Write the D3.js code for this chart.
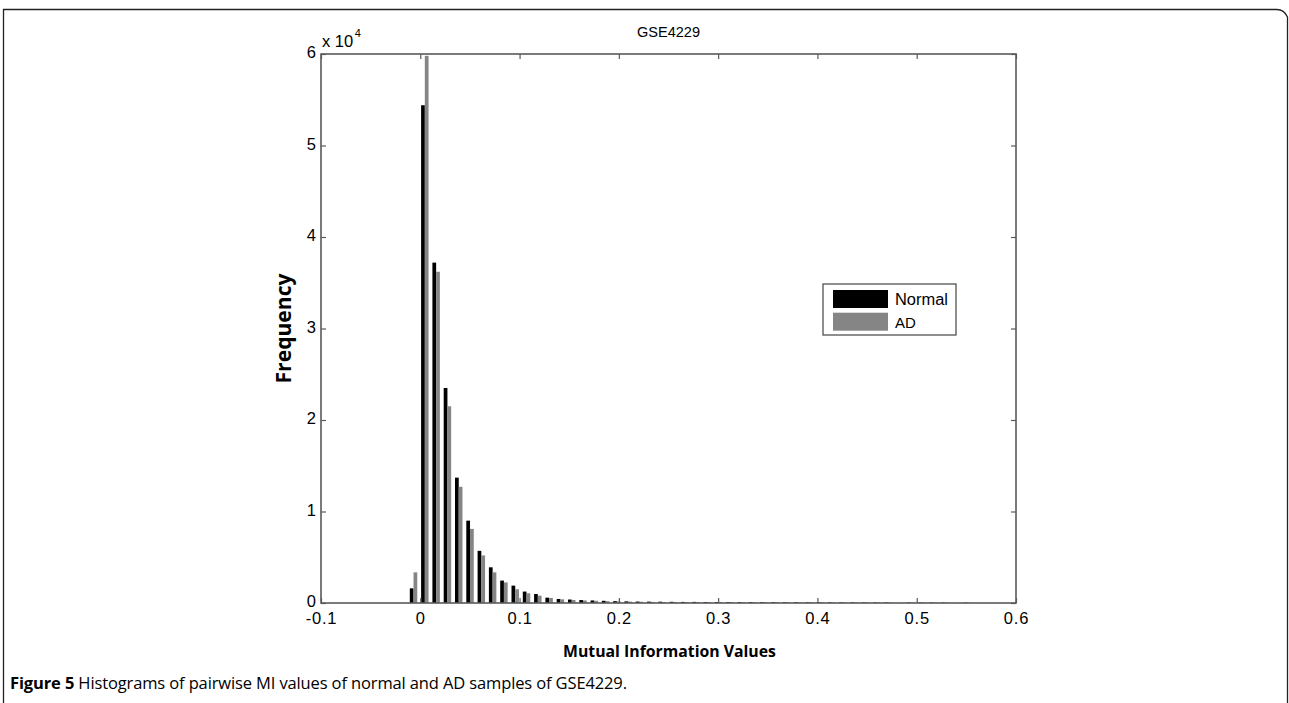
<!DOCTYPE html>
<html>
<head>
<meta charset="utf-8">
<script src="https://cdn.jsdelivr.net/npm/d3@7/dist/d3.min.js"></script>
<style>
  html, body { margin: 0; padding: 0; background: #fff; }
  svg { display: block; }
</style>
</head>
<body>
<svg id="chart" width="1289" height="703"></svg>
<script>
// ---------------- data ----------------
const chartTitle = "GSE4229";
const seriesNames = ["Normal", "AD"];
const binStart = -0.0068;      // centre of first histogram bin
const binWidth = 0.01138;      // histogram bin width
const normalCounts = [
  1600, 54400, 37200, 23500, 13700, 9000, 5700, 3900, 2450, 1900,
  1250, 980, 580, 440, 380, 320, 280, 240, 200, 180,
  160, 150, 140, 130, 120, 120, 110, 110, 100, 100,
  100, 95, 90, 90, 85, 80, 80, 75, 70, 70,
  65, 60, 60, 0, 55, 50, 50, 45, 0, 40
];
const adCounts = [
  3350, 59800, 36200, 21500, 12700, 8100, 5200, 3350, 2250, 1500,
  1060, 800, 550, 400, 330, 280, 240, 200, 170, 150,
  130, 120, 110, 110, 100, 100, 95, 90, 90, 85,
  85, 80, 80, 75, 70, 70, 65, 60, 60, 55,
  55, 50, 50, 0, 45, 45, 40, 40, 0, 30
];
const xTickValues = [-0.1, 0, 0.1, 0.2, 0.3, 0.4, 0.5, 0.6];
const yTickValues = [0, 10000, 20000, 30000, 40000, 50000, 60000];
const yExponent = 4;
const xLabel = "Mutual Information Values";
const yLabel = "Frequency";
const captionBold = "Figure 5";
const captionRest = " Histograms of pairwise MI values of normal and AD samples of GSE4229.";
const colors = ["#000000", "#858585"];

// ---------------- layout ----------------
const svg = d3.select("#chart");
const L = 321, R = 1016, T = 54, B = 603;
const x = d3.scaleLinear().domain([-0.1, 0.6]).range([L, R]);
const y = d3.scaleLinear().domain([0, 60000]).range([B, T]);
const tickFont = "'Liberation Sans', Arial, Helvetica, sans-serif";
const boldFont = "'Open Sans', 'Noto Sans', sans-serif";

function fitWidth(sel, target) {
  const node = sel.node();
  const fs = parseFloat(sel.attr("font-size"));
  const w = node.getComputedTextLength();
  if (w > 0) sel.attr("font-size", (fs * target / w).toFixed(2));
  return sel;
}
function fitSpacing(sel, target) {
  const node = sel.node();
  const w = node.getComputedTextLength();
  const n = node.textContent.length;
  if (w > 0 && n > 1) sel.attr("letter-spacing", ((target - w) / (n - 1)).toFixed(3));
  return sel;
}

// figure frame (rounded top-right corner)
svg.append("path")
  .attr("d", "M3.5,703 L3.5,9.5 L1277,9.5 Q1284,9.5 1287.5,17 L1287.5,703")
  .attr("fill", "none").attr("stroke", "#222").attr("stroke-width", 1.3);

// bars
const binIdx = d3.range(normalCounts.length);
const barW = binWidth * 0.33;
const gBars = svg.append("g");
[normalCounts, adCounts].forEach((vals, s) => {
  gBars.append("g").selectAll("rect").data(binIdx).join("rect")
    .attr("x", i => x(binStart + i * binWidth + (s === 0 ? -barW : 0)))
    .attr("width", i => x(binStart + i * binWidth + barW) - x(binStart + i * binWidth))
    .attr("y", i => y(vals[i]))
    .attr("height", i => y(0) - y(vals[i]))
    .attr("fill", colors[s]);
});

// axes
const axisColor = "#5a5a5a";
function styleAxis(g, showText) {
  g.select(".domain").remove();
  g.selectAll(".tick line").attr("stroke", axisColor).attr("stroke-width", 1.2);
  g.selectAll(".tick text")
    .attr("fill", "#000")
    .attr("font-family", tickFont)
    .attr("font-size", 16.5);
  if (!showText) g.selectAll(".tick text").remove();
}
svg.append("g").attr("transform", `translate(0,${B})`)
  .call(d3.axisBottom(x).tickValues(xTickValues).tickFormat(d => String(+d.toFixed(1))).tickSizeInner(-5).tickSizeOuter(0).tickPadding(9))
  .call(g => styleAxis(g, true))
  .call(g => g.selectAll(".tick text").attr("letter-spacing", 0.8));
svg.append("g").attr("transform", `translate(0,${T})`)
  .call(d3.axisTop(x).tickValues(xTickValues).tickSizeInner(-5).tickSizeOuter(0))
  .call(g => styleAxis(g, false));
svg.append("g").attr("transform", `translate(${L},0)`)
  .call(d3.axisLeft(y).tickValues(yTickValues).tickFormat(d => String(d / Math.pow(10, yExponent))).tickSizeInner(-5).tickSizeOuter(0).tickPadding(5))
  .call(g => styleAxis(g, true))
  .call(g => g.selectAll(".tick text").attr("dy", "0.22em"));

// plot box
svg.append("rect")
  .attr("x", L).attr("y", T).attr("width", R - L).attr("height", B - T)
  .attr("fill", "none").attr("stroke", axisColor).attr("stroke-width", 1.6);
svg.append("g").attr("transform", `translate(${R},0)`)
  .call(d3.axisRight(y).tickValues(yTickValues).tickSizeInner(-5).tickSizeOuter(0))
  .call(g => styleAxis(g, false));

// exponent label
const expText = svg.append("text")
  .attr("x", L + 1).attr("y", 47)
  .attr("font-family", tickFont).attr("font-size", 16.5).attr("fill", "#000");
expText.append("tspan").text("x 10");
expText.append("tspan").attr("dy", -10).attr("dx", 1.5).attr("font-size", 11).text(yExponent);

// title
fitWidth(svg.append("text")
  .attr("x", (L + R) / 2).attr("y", 37)
  .attr("text-anchor", "middle")
  .attr("font-family", tickFont).attr("font-size", 14).attr("fill", "#000")
  .text(chartTitle), 63);

// axis labels
fitWidth(svg.append("text")
  .attr("transform", `translate(291,${(T + B) / 2}) rotate(-90)`)
  .attr("text-anchor", "middle")
  .attr("font-family", boldFont).attr("font-weight", "bold").attr("font-size", 19).attr("fill", "#000")
  .text(yLabel), 110);
fitWidth(svg.append("text")
  .attr("x", 669.5).attr("y", 657)
  .attr("text-anchor", "middle")
  .attr("font-family", boldFont).attr("font-weight", "bold").attr("font-size", 18).attr("fill", "#000")
  .text(xLabel), 213);

// legend
const lg = svg.append("g");
lg.append("rect").attr("x", 823).attr("y", 284).attr("width", 133).attr("height", 51)
  .attr("fill", "#fff").attr("stroke", "#444").attr("stroke-width", 1.2);
seriesNames.forEach((name, i) => {
  lg.append("rect").attr("x", 833).attr("y", 290 + i * 22.7).attr("width", 55).attr("height", 18)
    .attr("fill", colors[i]);
  const t = lg.append("text").attr("x", 895).attr("y", 305 + i * 22.7)
    .attr("font-family", tickFont).attr("font-size", 15).attr("fill", "#000").text(name);
  if (i === 0) fitWidth(t, 53);
});

// caption
const cap = svg.append("text")
  .attr("x", 10).attr("y", 689)
  .attr("font-family", boldFont).attr("font-size", 16.5).attr("fill", "#000");
cap.append("tspan").attr("font-weight", "bold").text(captionBold);
cap.append("tspan").attr("font-weight", "normal").text(captionRest);
fitSpacing(cap, 617);
</script>
</body>
</html>
